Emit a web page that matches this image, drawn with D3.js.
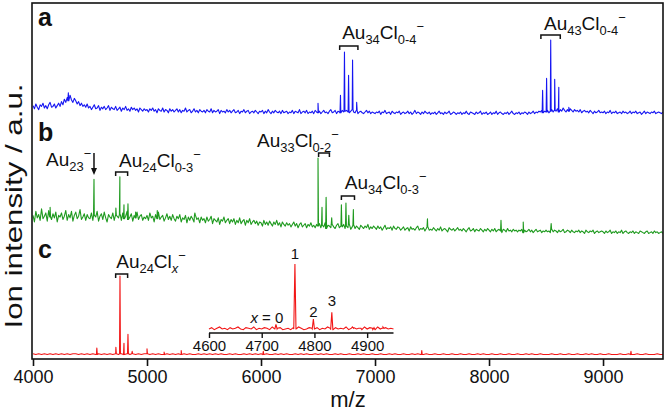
<!DOCTYPE html>
<html><head><meta charset="utf-8">
<script src="https://cdn.jsdelivr.net/npm/d3@7/dist/d3.min.js"></script>
<style>
html,body{margin:0;padding:0;background:#fff;}
svg{display:block;font-family:"Liberation Sans",Arial,Helvetica,sans-serif;}
</style></head>
<body>
<svg id="chart" width="666" height="412"></svg>
<script>
// ---------- DATA (relative intensities, %) ----------
const xTicks = [4000, 5000, 6000, 7000, 8000, 9000];

// panel a (blue) baseline, every 12.5 m/z from 4000
const startA = 4000, stepA = 12.5;
const baseA = [
 18,14,20,16,13,19,17,21,15,18,14,19,22,16,17,20,15,18,21,17,
 23,19,26,22,28,24,31,25,22,27,24,20,23,18,21,17,19,16,20,15,
 17,13,16,19,14,15,18,12,16,14,17,13,15,18,12,16,14,13,17,12,
 14,16,11,15,13,17,12,14,11,16,13,15,12,14,10,15,13,11,14,12,
 13,10,14,12,15,11,13,9,14,12,11,15,10,13,12,9,14,11,13,10,
 12,14,10,13,9,12,11,15,10,12,13,9,11,14,10,12,9,13,11,10,
 12,9,13,11,10,14,9,12,10,11,13,8,12,10,11,9,13,10,12,9,
 11,13,9,10,12,8,11,10,13,9,11,12,8,10,11,9,12,10,8,11,
 10,12,8,11,9,13,10,8,11,9,12,10,9,11,8,12,9,10,11,8,
 10,9,12,8,11,10,9,13,8,10,11,9,12,8,10,9,11,8,12,10,
 9,11,8,10,12,9,10,8,11,13,9,10,12,8,11,10,9,12,10,11,
 12,10,9,11,13,10,9,12,8,10,11,9,8,10,12,9,11,8,10,9,
 8,10,9,11,7,10,9,12,8,9,10,7,11,9,8,10,9,11,7,9,
 10,8,9,11,8,10,7,9,12,8,10,9,7,10,8,11,9,8,10,7,
 9,8,10,7,9,11,8,9,7,10,8,9,11,7,8,10,9,7,9,8,
 10,7,9,8,11,8,7,10,9,8,7,10,8,9,11,7,9,8,10,7,
 8,10,7,9,8,11,7,9,10,8,7,9,8,10,7,9,11,8,7,9,
 8,10,7,9,8,10,9,7,10,8,9,11,8,10,9,11,10,12,9,11,
 10,12,9,11,13,10,12,11,14,10,13,11,15,12,10,13,11,14,12,10,
 13,11,12,10,13,9,11,12,10,11,9,12,10,8,11,9,10,12,9,10,
 9,11,8,10,9,12,8,10,9,11,8,9,10,8,11,9,10,8,9,11,
 8,10,9,11,8,9,10,7,9,11,8,10,9,8,10,9,11,8,9,10,
 9,8,10];
const peaksA = [[4310,34],[6500,21],[6697,31],[6732,85],[6768,56],[6803,75],[6839,22],
 [8470,37],[8505,52],[8541,100],[8576,51],[8612,41],[8700,16]];

// panel b (green) baseline, every 12.5 m/z from 4000
const startB = 4000, stepB = 12.5;
const baseB = [
 30,22,35,27,31,24,38,26,29,33,23,36,28,25,32,27,34,22,30,28,
 33,25,29,36,24,31,27,35,23,30,34,26,29,37,25,28,32,24,31,27,
 26,33,24,30,28,35,23,29,32,25,34,27,22,31,28,26,33,24,30,29,
 27,31,24,33,26,29,35,25,28,32,23,30,27,34,25,29,31,24,28,26,
 30,24,33,27,29,22,31,26,34,25,28,30,23,27,32,25,29,24,31,26,
 23,29,26,31,22,27,25,30,21,28,24,29,26,22,30,25,27,21,28,24,
 26,21,28,23,25,29,20,26,24,22,27,19,25,23,28,21,24,26,20,25,
 22,26,19,24,21,27,20,23,25,18,24,21,26,19,22,24,20,23,18,22,
 21,17,24,19,22,18,23,20,17,22,19,24,18,21,16,22,19,17,21,18,
 20,16,19,22,17,20,15,19,21,16,18,20,15,19,17,21,16,18,15,19,
 17,20,15,18,16,21,14,18,17,15,19,16,14,18,20,15,17,16,19,14,
 17,15,19,13,16,18,14,17,15,13,18,16,14,17,15,19,13,16,14,17,
 15,13,17,14,16,12,15,18,13,15,14,16,12,17,14,13,16,15,12,14,
 16,12,14,15,11,16,13,14,12,15,17,12,14,13,15,11,14,16,12,13,
 12,15,13,11,14,12,16,11,13,14,12,10,15,13,12,14,11,13,15,12,
 13,11,14,12,10,13,15,11,12,14,10,13,12,11,14,12,10,13,11,14,
 12,10,13,11,14,10,12,13,11,9,13,12,10,14,11,12,10,13,11,12,
 10,12,11,13,9,12,10,11,13,10,12,9,11,13,10,11,12,9,11,10,
 12,10,11,9,13,10,12,11,9,12,10,11,13,9,10,12,11,9,12,10,
 9,11,10,12,9,11,10,8,12,10,9,11,10,12,8,10,11,9,10,11,
 10,8,11,9,10,12,8,10,9,11,8,10,9,12,8,10,11,9,8,10,
 9,11,8,10,9,8,11,10,9,8,10,11,8,9,10,8,11,9,10,8,
 9,10,8];
const peaksB = [[4150,40],[4535,74],[4727,39],[4762,77],[4798,43],[4833,44],[4900,34],
 [5090,36],[5420,33],[6500,100],[6535,40],[6571,52],[6620,27],[6705,43],[6745,45],
 [6770,30],[6810,37],[7460,26],[8105,24],[8300,22],[8545,20]];

// panel c (red) baseline, every 25 m/z from 4000
const startC = 4000, stepC = 25;
const baseC = [4,3,4,3,4,3,4,3,4,3, 4,3,4,3,4,4,3,4,3,4,
 3,4,3,4,3,4,3,4,3,4, 3,4,3,4,3,4,3,4,3,4,
 4,3,4,3,4,3,3,4,3,4, 3,4,3,4,3,4,3,3,4,3,
 4,3,4,3,4,3,4,3,3,4, 3,4,3,3,4,3,4,3,4,3,
 4,3,4,3,3,4,3,4,3,4, 3,3,4,3,4,3,4,3,3,4,
 3,4,3,4,3,3,4,3,4,3, 3,4,3,3,4,3,4,3,3,4,
 3,3,4,3,3,4,3,4,3,3, 4,3,3,4,3,4,3,3,4,3,
 3,4,3,3,4,3,3,4,3,3, 4,3,3,4,3,3,4,3,4,3,
 3,4,3,3,4,3,3,4,3,3, 4,3,3,4,3,4,3,3,4,3,
 3,3,4,3,3,4,3,3,4,3, 3,4,3,3,4,3,4,3,3,4,
 3,3,4,3,3,3,4,3,3,4, 3,3,4,3,3,4,3,3,3,4,3,3];
const peaksC = [[4560,11],[4727,12],[4763,100],[4798,17],[4833,28],[4870,7],[5000,10],
 [5150,6],[5300,8],[6020,7],[7410,8],[9245,7]];

// inset (red, zoom 4600-4950)
const insetStart = 4600, insetStep = 5;
const insetTicks = [4600, 4700, 4800, 4900];
const insetBase = [3,5,2,4,6,3,4,2,5,3, 4,6,3,2,5,4,3,6,2,4,
 3,5,4,2,6,3,4,5,2,3, 4,2,5,3,6,4,2,3,5,4,
 3,5,2,4,3,6,4,2,5,3, 4,3,6,2,4,5,3,4,2,6,
 3,5,4,2,6,3,4,5,3,4,3];
const insetPeaks = [[4727,10],[4763,100],[4798,18],[4833,28],[4872,6],[4886,4],[4913,5],[4930,6]];

// ---------- LAYOUT ----------
const L = 32, R = 663, T = 3, B = 359;
const svg = d3.select("#chart");
const x = d3.scaleLinear().domain([4000, 9526]).range([33, 663]);
const panels = [
  {start: startA, step: stepA, base: baseA, peaks: peaksA, color: "#1616f2", zero: 120, top: 40},
  {start: startB, step: stepB, base: baseB, peaks: peaksB, color: "#1f9a1f", zero: 240, top: 158},
  {start: startC, step: stepC, base: baseC, peaks: peaksC, color: "#f21616", zero: 357, top: 276}
];

function buildSeries(start, step, base, peaks, hw) {
  const pts = base.map((v, i) => ({mz: start + i * step, v}));
  peaks.forEach(([m, h]) => {
    const j = Math.max(0, Math.min(base.length - 1, Math.round((m - start) / step)));
    const b = base[j];
    pts.push({mz: m - hw, v: b}, {mz: m, v: h}, {mz: m + hw, v: b});
  });
  pts.sort((a, b) => a.mz - b.mz);
  return pts;
}

svg.append("clipPath").attr("id", "clp").append("rect")
  .attr("x", L).attr("y", T).attr("width", R - L).attr("height", B - T);

panels.forEach(p => {
  const y = d3.scaleLinear().domain([0, 100]).range([p.zero, p.top]);
  const data = buildSeries(p.start, p.step, p.base, p.peaks, 4);
  svg.append("path").datum(data)
    .attr("clip-path", "url(#clp)")
    .attr("fill", "none").attr("stroke", p.color).attr("stroke-width", 1.1)
    .attr("stroke-linejoin", "round")
    .attr("d", d3.line().x(d => x(d.mz)).y(d => y(d.v)));
});

// frame
svg.append("rect").attr("x", L).attr("y", T).attr("width", R - L).attr("height", B - T)
  .attr("fill", "none").attr("stroke", "#111").attr("stroke-width", 1.6);

// bottom axis
const ax = svg.append("g").attr("transform", `translate(0,${B})`)
  .call(d3.axisBottom(x).tickValues(xTicks).tickSize(7).tickPadding(4).tickFormat(d3.format("d")));
ax.select(".domain").remove();
ax.selectAll("line").attr("stroke", "#111").attr("stroke-width", 1.6);
ax.selectAll("text").attr("font-size", 18).attr("fill", "#111")
  .attr("font-family", "'Liberation Sans',Arial,sans-serif");

svg.append("text").attr("x", 348).attr("y", 407).attr("text-anchor", "middle")
  .attr("font-size", 22).attr("fill", "#111").text("m/z");

svg.append("text").attr("transform", "translate(22,206) rotate(-90)")
  .attr("text-anchor", "middle").attr("font-size", 24).attr("fill", "#111")
  .attr("textLength", 245).attr("lengthAdjust", "spacingAndGlyphs")
  .text("Ion intensity / a.u.");

// panel letters
[["a", 26], ["b", 141], ["c", 258]].forEach(([t, yy]) => {
  svg.append("text").attr("x", 38).attr("y", yy).attr("font-size", 25)
    .attr("font-weight", "bold").attr("fill", "#111").text(t);
});

// rich labels
function richText(xp, yp, parts, size) {
  const t = svg.append("text").attr("x", xp).attr("y", yp).attr("font-size", size).attr("fill", "#111");
  let cur = 0;
  parts.forEach(pt => {
    const target = pt.sub ? size * 0.28 : pt.sup ? -size * 0.42 : 0;
    const s = t.append("tspan").attr("dy", target - cur).text(pt.t);
    if (pt.sub || pt.sup) s.attr("font-size", size * 0.68);
    if (pt.it) s.attr("font-style", "italic");
    cur = target;
  });
  return t;
}
function bracket(m1, m2, yy) {
  svg.append("path").attr("fill", "none").attr("stroke", "#111").attr("stroke-width", 1.5)
    .attr("d", `M${x(m1)},${yy + 4}V${yy}H${x(m2)}V${yy + 4}`);
}
const labels = [
  {m: 6712, y: 39, b: [6690, 6850, 46], parts: [{t:"Au"},{t:"34",sub:1},{t:"Cl"},{t:"0-4",sub:1},{t:"−",sup:1}]},
  {m: 8482, y: 30, b: [8455, 8625, 35], parts: [{t:"Au"},{t:"43",sub:1},{t:"Cl"},{t:"0-4",sub:1},{t:"−",sup:1}]},
  {m: 4115, y: 166, b: null, parts: [{t:"Au"},{t:"23",sub:1},{t:"−",sup:1}]},
  {m: 4755, y: 167, b: [4725, 4830, 172], parts: [{t:"Au"},{t:"24",sub:1},{t:"Cl"},{t:"0-3",sub:1},{t:"−",sup:1}]},
  {m: 5965, y: 147, b: [6505, 6600, 153], parts: [{t:"Au"},{t:"33",sub:1},{t:"Cl"},{t:"0-2",sub:1},{t:"−",sup:1}]},
  {m: 6735, y: 189, b: [6705, 6820, 196], parts: [{t:"Au"},{t:"34",sub:1},{t:"Cl"},{t:"0-3",sub:1},{t:"−",sup:1}]},
  {m: 4730, y: 268, b: [4725, 4830, 274], parts: [{t:"Au"},{t:"24",sub:1},{t:"Cl"},{t:"x",sub:1,it:1},{t:"−",sup:1}]}
];
labels.forEach(l => {
  richText(x(l.m), l.y, l.parts, 19);
  if (l.b) bracket(l.b[0], l.b[1], l.b[2]);
});
// arrow for Au23
const ax23 = x(4535);
svg.append("line").attr("x1", ax23).attr("x2", ax23).attr("y1", 153).attr("y2", 170)
  .attr("stroke", "#111").attr("stroke-width", 1.5);
svg.append("path").attr("fill", "#111")
  .attr("d", `M${ax23 - 3},${168}L${ax23 + 3},${168}L${ax23},${175}Z`);

// ---------- INSET ----------
const xi = d3.scaleLinear().domain([4600, 4950]).range([209, 393.5]);
const yi = d3.scaleLinear().domain([0, 100]).range([331, 264]);
svg.append("path").datum(buildSeries(insetStart, insetStep, insetBase, insetPeaks, 2.2))
  .attr("fill", "none").attr("stroke", "#f21616").attr("stroke-width", 1.1)
  .attr("d", d3.line().x(d => xi(d.mz)).y(d => yi(d.v)));
const ia = svg.append("g").attr("transform", "translate(0,333)")
  .call(d3.axisBottom(xi).tickValues(insetTicks).tickSize(5).tickSizeOuter(0).tickPadding(2).tickFormat(d3.format("d")));
ia.select(".domain").attr("stroke", "#111").attr("stroke-width", 1.6).attr("d", `M${xi(4600)},0H${xi(4950)}`);
ia.selectAll("line").attr("stroke", "#111").attr("stroke-width", 1.4);
ia.selectAll("text").attr("font-size", 15).attr("fill", "#111")
  .attr("font-family", "'Liberation Sans',Arial,sans-serif");

const xl = svg.append("text").attr("x", xi(4741)).attr("y", 323).attr("text-anchor", "end")
  .attr("font-size", 15).attr("fill", "#111");
xl.append("tspan").attr("font-style", "italic").text("x");
xl.append("tspan").text(" = 0");
[["1", 4763, 259], ["2", 4798, 317], ["3", 4833, 306]].forEach(([t, m, yy]) => {
  svg.append("text").attr("x", xi(m)).attr("y", yy).attr("text-anchor", "middle")
    .attr("font-size", 15).attr("fill", "#111").text(t);
});
</script>
</body></html>
